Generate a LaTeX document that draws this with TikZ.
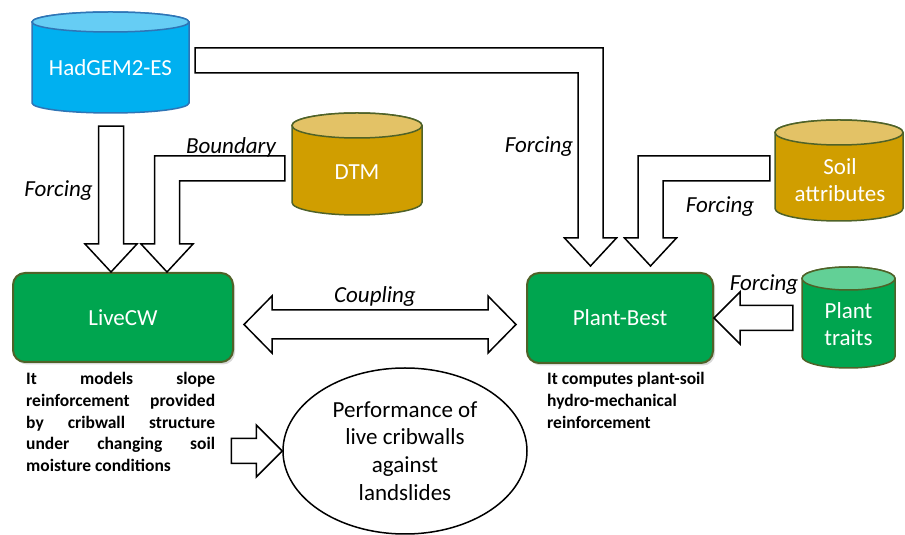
\documentclass[tikz,border=0pt]{standalone}
\usepackage{fontspec}
\setmainfont{Carlito}
\usetikzlibrary{calc}
\usetikzlibrary{shapes.geometric}
\usetikzlibrary{shadows}

\definecolor{hadblue}{HTML}{00B0F0}
\definecolor{hadtop}{HTML}{66CDF4}
\definecolor{hadedge}{HTML}{2E75B6}
\definecolor{gold}{HTML}{D09E00}
\definecolor{goldtop}{HTML}{E3C266}
\definecolor{olive}{HTML}{4F6228}
\definecolor{modgreen}{HTML}{00A54F}
\definecolor{mint}{HTML}{62D096}

% data store: name, x1, x2, top, bottom, ry, body, lid, edge
\newcommand{\drum}[9]{%
  \pgfmathsetmacro\drumrx{(#3-#2)/2}
  \pgfmathsetmacro\drumcx{(#3+#2)/2}
  \pgfmathsetmacro\drumcy{(#4+#5)/2}
  \pgfmathsetmacro\drumw{#3-#2}
  \pgfmathsetmacro\drumh{#4-#5}
  \filldraw[fill=#7,draw=#9,line width=1.5pt] (#2,#4-#6) -- (#2,#5+#6)
    arc[start angle=180,end angle=360,x radius=\drumrx pt,y radius=#6pt]
    -- (#3,#4-#6)
    arc[start angle=0,end angle=180,x radius=\drumrx pt,y radius=#6pt] -- cycle;
  \filldraw[fill=#8,draw=#9,line width=1.5pt] (\drumcx,#4-#6)
    ellipse[x radius=\drumrx pt,y radius=#6pt];
  \node[inner sep=0,minimum width=\drumw pt,minimum height=\drumh pt] (#1) at (\drumcx,\drumcy) {};
}

% straight block arrow down to tip #2
\newcommand{\downblock}[2]{%
  \draw[block] let \p1=(#1), \p2=(#2) in
    (\x2-12.5pt,\y1) -- (\x2-12.5pt,\y2+28pt) -- (\x2-26pt,\y2+28pt) -- (\x2,\y2)
    -- (\x2+26pt,\y2+28pt) -- (\x2+12.5pt,\y2+28pt) -- (\x2+12.5pt,\y1) -- cycle;}

% bent block arrow: sideways from #1, then down to tip #2; #3=1 goes left, -1 goes right
\newcommand{\bentblock}[3]{%
  \draw[block] let \p1=(#1), \p2=(#2) in
    (\x1,\y1+12.5pt) -- ({\x2-#3*12.5pt},\y1+12.5pt) -- ({\x2-#3*12.5pt},\y2+28pt)
    -- ({\x2-#3*26pt},\y2+28pt) -- (\x2,\y2) -- ({\x2+#3*26pt},\y2+28pt)
    -- ({\x2+#3*12.5pt},\y2+28pt) -- ({\x2+#3*12.5pt},\y1-12.5pt) -- (\x1,\y1-12.5pt) -- cycle;}

% horizontal block arrow to tip #2; #3=1 points left, -1 points right
\newcommand{\sideblock}[3]{%
  \draw[block] let \p1=(#1), \p2=(#2) in
    (\x1,\y2+12.5pt) -- ({\x2+#3*26pt},\y2+12.5pt) -- ({\x2+#3*26pt},\y2+26pt) -- (\x2,\y2)
    -- ({\x2+#3*26pt},\y2-26pt) -- ({\x2+#3*26pt},\y2-12.5pt) -- (\x1,\y2-12.5pt) -- cycle;}

\tikzset{
  block/.style={fill=white,draw=black,line width=1.5pt},
  big/.style={font=\fontsize{23}{27}\selectfont},
  drumtext/.style={big,text=white,align=center,inner sep=0},
  model/.style={big,rectangle,rounded corners=12pt,fill=modgreen,draw=olive,line width=2pt,
    text=white,inner sep=0,drop shadow={shadow xshift=2pt,shadow yshift=-2.5pt,opacity=.3}},
  lbl/.style={font=\itshape\fontsize{23}{27}\selectfont,inner sep=0},
  desc/.style={font=\bfseries\fontsize{17.5}{21.8}\selectfont,align=left,inner sep=0,anchor=north west}
}

\begin{document}
\begin{tikzpicture}[x=1pt,y=1pt]
\useasboundingbox (0,0) rectangle (905,535);

\drum{had}{32}{189}{523}{422}{10}{hadblue}{hadtop}{hadedge}
\drum{dtm}{292}{422}{422}{320}{12.5}{gold}{goldtop}{olive}
\drum{soil}{775}{903}{415}{314}{12.5}{gold}{goldtop}{olive}
\drum{traits}{802}{895}{268}{167}{11.5}{modgreen}{mint}{olive}

\node[drumtext] (hadlbl) at ($(had)+(0,-5.5)$) {HadGEM2-ES};
\node[drumtext] (dtmlbl) at ($(dtm)+(0,-8)$) {DTM};
\node[drumtext] (soillbl) at ($(soil)+(1,-9.5)$) {Soil\\attributes};
\node[drumtext] (traitslbl) at ($(traits)+(0,-7)$) {Plant\\traits};

\node[model,minimum width=220pt,minimum height=89pt] (livecw) at (123,217.5) {LiveCW};
\node[model,minimum width=186pt,minimum height=90pt] (plantbest) at (620,217) {Plant-Best};

\node[ellipse,draw,line width=1.5pt,minimum width=244pt,minimum height=166pt,inner sep=0,
  align=center,font=\fontsize{23}{27.7}\selectfont] (perf) at (405,84)
  {Performance of\\live cribwalls\\against\\landslides};

\node[desc] (livedesc) at ($(livecw.south west)+(14,-9)$)
  {\makebox[189pt][s]{It models slope}\\
   \makebox[189pt][s]{reinforcement provided}\\
   \makebox[189pt][s]{by cribwall structure}\\
   \makebox[189pt][s]{under changing soil}\\
   moisture conditions};
\node[desc] (plantdesc) at ($(plantbest.south west)+(21,-8)$)
  {It computes plant-soil\\hydro-mechanical\\reinforcement};

\downblock{$(had.south)+(0.5,-13)$}{$(livecw.north)+(-12,0)$} %forcing
\bentblock{$(dtm.west)+(-7,-4.5)$}{$(livecw.north)+(44,0)$}{1} %boundary
\bentblock{$(had.east)+(6,2)$}{$(plantbest.north)+(-29.5,6)$}{-1} %forcing
\bentblock{$(soil.west)+(-5,2)$}{$(plantbest.north)+(30.5,6)$}{1} %soil
\sideblock{$(traits.west)+(-9,0)$}{plantbest.east}{1} %traits
\sideblock{$(livedesc.east)+(16,0)$}{perf.west}{-1} %to performance

\draw[block] let \p1=($(livecw.east)+(10,-7)$), \p2=($(plantbest.west)+(-10,-6.5)$) in
  (\x1,\y1) -- (\x1+28pt,\y1+28.5pt) -- (\x1+28pt,\y1+14.5pt) -- (\x2-28pt,\y1+14.5pt)
  -- (\x2-28pt,\y1+28.5pt) -- (\x2,\y1) -- (\x2-28pt,\y1-28.5pt) -- (\x2-28pt,\y1-14.5pt)
  -- (\x1+28pt,\y1-14.5pt) -- (\x1+28pt,\y1-28.5pt) -- cycle; %coupling

\node[lbl] (f1) at (58.5,344) {Forcing};
\node[lbl] (bnd) at (231,388) {Boundary};
\node[lbl] (f2) at (539,388) {Forcing};
\node[lbl] (f3) at (720,328) {Forcing};
\node[lbl] (f4) at (764,250) {Forcing};
\node[lbl] (cpl) at (375,239) {Coupling};

\end{tikzpicture}
\end{document}
